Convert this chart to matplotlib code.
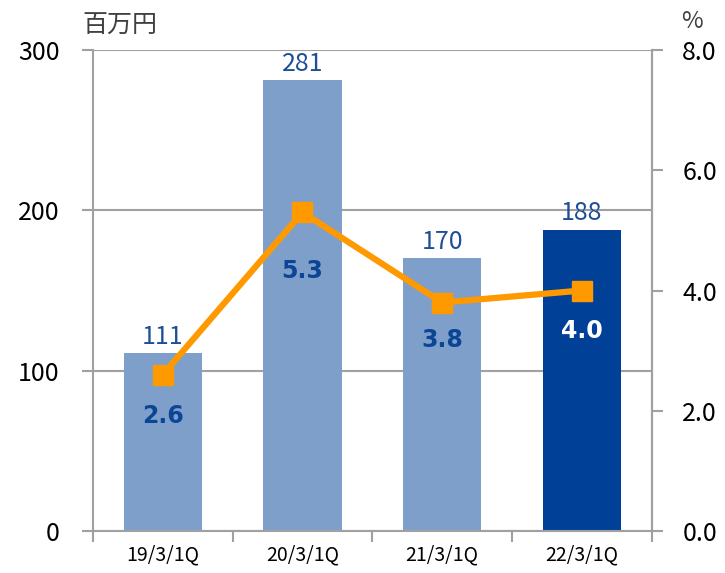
import matplotlib
matplotlib.use("Agg")
import matplotlib.pyplot as plt
from matplotlib.ticker import FormatStrFormatter

plt.rcParams['font.family'] = ['Noto Sans CJK JP', 'DejaVu Sans']

categories = ["19/3/1Q", "20/3/1Q", "21/3/1Q", "22/3/1Q"]
sales = [111, 281, 170, 188]
ratio = [2.6, 5.3, 3.8, 4.0]
bar_colors = ["#7F9FCB", "#7F9FCB", "#7F9FCB", "#004097"]
pct_colors = ["#0B4596", "#0B4596", "#0B4596", "white"]

grey = "#A0A0A0"

fig = plt.figure(figsize=(7.25, 5.73), dpi=100)
ax = fig.add_axes([0.128, 0.0733, 0.771, 0.8394])
x = list(range(len(categories)))

ax.bar(x, sales, width=0.56, color=bar_colors, zorder=2)
ax.set_xlim(-0.5, 3.5)
ax.set_ylim(0, 300)
ax.set_yticks([0, 100, 200, 300])
ax.yaxis.grid(True, color=grey, linewidth=1.5, zorder=0)
ax.set_axisbelow(True)
ax.spines["top"].set_visible(False)
for s in ["left", "right", "bottom"]:
    ax.spines[s].set_color(grey)
    ax.spines[s].set_linewidth(1.5)
ax.tick_params(axis="y", length=8, width=1.5, color=grey, labelsize=18, pad=16)
ax.set_xticks([-0.5, 0.5, 1.5, 2.5, 3.5])
ax.set_xticklabels([])
ax.set_xticks(x, minor=True)
ax.set_xticklabels(categories, minor=True)
ax.tick_params(axis="x", which="major", length=8, width=1.5, color=grey)
ax.tick_params(axis="x", which="minor", length=0, labelsize=14, pad=10)

for xi, v in zip(x, sales):
    ax.text(xi, v + 2, str(v), ha="center", va="bottom", fontsize=18, color="#1F4E99")

ax2 = ax.twinx()
ax2.set_ylim(0, 8)
ax2.set_yticks([0, 2, 4, 6, 8])
ax2.yaxis.set_major_formatter(FormatStrFormatter("%.1f"))
ax2.tick_params(axis="y", length=8, width=1.5, color=grey, labelsize=18, pad=14)
for s in ["top", "left", "bottom"]:
    ax2.spines[s].set_visible(False)
ax2.spines["right"].set_color(grey)
ax2.spines["right"].set_linewidth(1.5)
ax2.plot(x, ratio, color="#FF9900", linewidth=4.5, marker="s", markersize=15, zorder=3)

offsets = [-0.68, -0.97, -0.63, -0.68]
for xi, v, c, o in zip(x, ratio, pct_colors, offsets):
    ax2.text(xi, v + o, "%.1f" % v, ha="center", va="center", fontsize=17,
             fontweight="bold", color=c, family=["DejaVu Sans"])

fig.text(0.114, 0.955, "百万円", fontsize=18, color="#404040", ha="left", va="center")
fig.text(0.955, 0.962, "%", fontsize=17, color="#404040", ha="center", va="center")

fig.savefig("out.png", dpi=100)
